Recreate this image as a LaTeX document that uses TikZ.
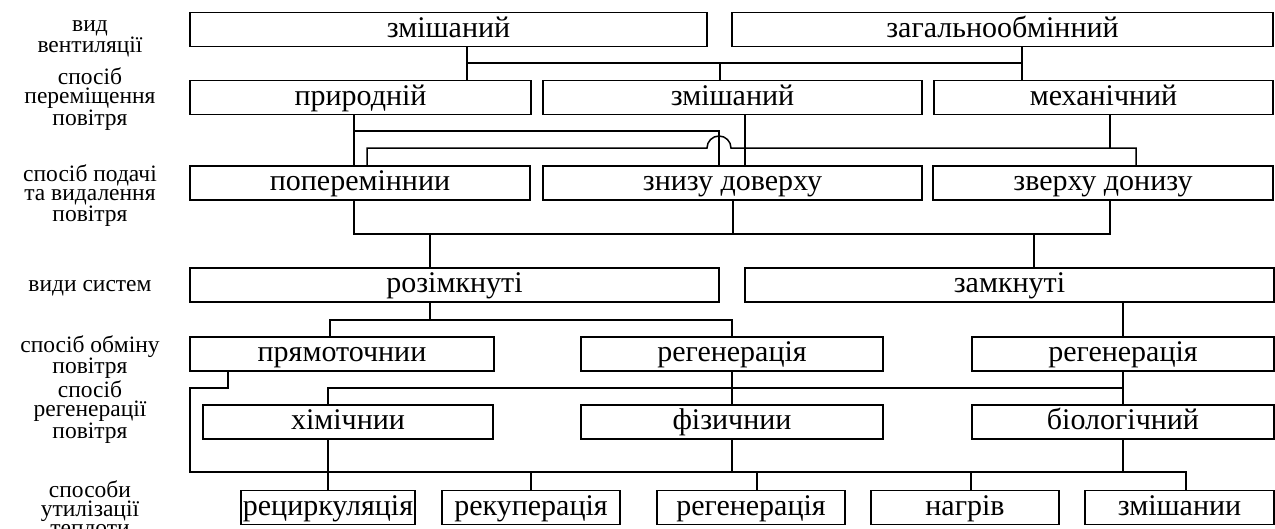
\documentclass[tikz,border=0pt]{standalone}
\usepackage{fontspec}
\setmainfont{Liberation Serif}
\usepackage{tikz}
\usetikzlibrary{positioning}

\begin{document}
\begin{tikzpicture}[x=1pt,y=-1pt,line width=1.5pt,
  box/.style={draw,inner sep=0pt,minimum height=34pt,text height=22pt,text depth=7pt,font=\fontsize{30}{36}\selectfont},
  lbl/.style={align=center,font=\fontsize{23.5}{19}\selectfont}]
\useasboundingbox (0,0) rectangle (1275,528);

% left column
\node[lbl] (L1) at (90,39) {вид\\вентиляції};
\node[lbl] (L2) at (90,99) {спосіб\\переміщення\\повітря};
\node[lbl] (L3) at (90,196) {спосіб подачі\\та видалення\\повітря};
\node[lbl] (L4) at (90,288) {види систем};
\node[lbl] (L5) at (90,357) {спосіб обміну\\повітря};
\node[lbl] (L6) at (90,412) {спосіб\\регенерації\\повітря};
\node[lbl] (L7) at (90,508) {способи\\утилізації\\теплоти};

% boxes
\node[box,minimum width=517pt] (ZM1) at (448.5,29.5) {змішаний};
\node[box,minimum width=541pt] (ZO) at (1002.5,29.5) {загальнообмінний};

\node[box,minimum width=341pt] (PR) at (360.5,97.5) {природній};
\node[box,minimum width=379pt] (ZM2) at (732.5,97.5) {змішаний};
\node[box,minimum width=339pt] (MX) at (1103.5,97.5) {механічний};

\node[box,minimum width=340pt] (PP) at (360,183) {попереміннии};
\node[box,minimum width=379pt] (ZD) at (732.5,183) {знизу доверху};
\node[box,minimum width=340pt] (ZV) at (1103,183) {зверху донизу};

\node[box,minimum width=529pt] (RZ) at (454.5,285) {розімкнуті};
\node[box,minimum width=529pt] (ZK) at (1009.5,285) {замкнуті};

\node[box,minimum width=304pt] (PT) at (342,354) {прямоточнии};
\node[box,minimum width=302pt] (RG1) at (732,354) {регенерація};
\node[box,minimum width=302pt] (RG2) at (1123,354) {регенерація};

\node[box,minimum width=290pt] (HI) at (348,422) {хімічнии};
\node[box,minimum width=302pt] (FI) at (732,422) {фізичнии};
\node[box,minimum width=302pt] (BI) at (1123,422) {біологічний};

\node[box,minimum width=174pt] (RC) at (328,507.5) {рециркуляція};
\node[box,minimum width=178pt] (RK) at (531,507.5) {рекуперація};
\node[box,minimum width=188pt] (RG3) at (751,507.5) {регенерація};
\node[box,minimum width=188pt] (NG) at (965,507.5) {нагрів};
\node[box,minimum width=189pt] (ZS) at (1179.5,507.5) {змішании};

% vid -> peremishchennia
\coordinate (a1) at (467,63);
\coordinate (a2) at (720,63);
\coordinate (a3) at (1022,63);
\draw (ZM1.south -| a1) -- (PR.north -| a1);
\draw (a1) -- (a3);
\draw (a2) -- (ZM2.north -| a2);
\draw (ZO.south -| a3) -- (MX.north -| a3);

% peremishchennia -> podacha
\coordinate (b1) at (354,131);
\coordinate (b2) at (719,131);
\coordinate (b3) at (745,148);
\coordinate (c1) at (367,148);
\coordinate (c2) at (1110,148);
\coordinate (c3) at (1136,148);
\draw (PR.south -| b1) -- (PP.north -| b1);
\draw (b1) -- (b2) -- (ZD.north -| b2);
\draw (PP.north -| c1) -- (c1) -- (707,148) arc[start angle=180,end angle=360,radius=12] -- (c3) -- (ZV.north -| c3);
\draw (MX.south -| c2) -- (c2);
\draw (ZM2.south -| b3) -- (ZD.north -| b3);

% podacha -> systemy
\coordinate (d1) at (354,234);
\coordinate (d2) at (430,234);
\coordinate (d3) at (733,234);
\coordinate (d4) at (1034,234);
\coordinate (d5) at (1110,234);
\draw (PP.south -| d1) -- (d1) -- (d5) -- (ZV.south -| d5);
\draw (ZD.south -| d3) -- (d3);
\draw (d2) -- (RZ.north -| d2);
\draw (d4) -- (ZK.north -| d4);

% systemy -> obmin
\coordinate (e1) at (330,320);
\coordinate (e2) at (430,320);
\coordinate (e3) at (732,320);
\draw (RZ.south -| e2) -- (e2);
\draw (PT.north -| e1) -- (e1) -- (e3) -- (RG1.north -| e3);
\draw (ZK.south -| RG2.north) -- (RG2.north);

% obmin -> regeneratsiia
\coordinate (f1) at (328,388);
\coordinate (f2) at (1123,388);
\draw (HI.north -| f1) -- (f1) -- (f2);
\draw (RG2.south) -- (BI.north);
\draw (RG1.south) -- (FI.north);

% -> utylizatsiia
\coordinate (g1) at (228,388);
\coordinate (g2) at (190,388);
\coordinate (h1) at (190,472);
\coordinate (h2) at (1186,472);
\coordinate (h3) at (757,472);
\coordinate (h4) at (971,472);
\draw (PT.south -| g1) -- (g1) -- (g2) -- (h1) -- (h2) -- (ZS.north -| h2);
\draw (HI.south -| RC.north) -- (RC.north);
\draw (FI.south) -- (FI.south |- h1);
\draw (BI.south) -- (BI.south |- h1);
\draw (RK.north) -- (RK.north |- h1);
\draw (h3) -- (RG3.north -| h3);
\draw (h4) -- (NG.north -| h4);
\end{tikzpicture}
\end{document}
